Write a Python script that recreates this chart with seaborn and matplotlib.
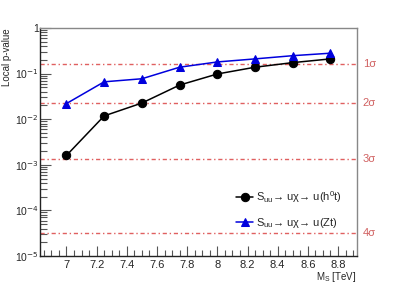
import numpy as np
import seaborn as sns
from matplotlib import pyplot as plt
from matplotlib.ticker import FixedLocator, LogLocator, NullFormatter

mass = [7.0, 7.25, 7.5, 7.75, 8.0, 8.25, 8.5, 8.75]
p_h0t = [1.6e-3, 0.0118, 0.0226, 0.056, 0.098, 0.138, 0.174, 0.21]
p_zt = [0.022, 0.066, 0.077, 0.138, 0.18, 0.21, 0.247, 0.28]
sigma_labels = ["1σ", "2σ", "3σ", "4σ"]
sigma_p = [0.1587, 0.02275, 0.00135, 3.17e-5]

sns.set_theme(style="ticks")
plt.rcParams['font.family'] = ['Liberation Sans', 'DejaVu Sans']

fig = plt.figure(figsize=(3.97, 2.85), dpi=100)
ax = fig.add_axes([0.1008, 0.1018, 0.7982, 0.8])

sns.lineplot(x=mass, y=p_h0t, ax=ax, color="black", marker="o", markersize=6,
             markeredgecolor="black", linewidth=1.1,
             label=r"S$_{\mathregular{uu}}$→ uχ→ u(h$^{\mathregular{0}}$t)")
sns.lineplot(x=mass, y=p_zt, ax=ax, color="#0000dd", marker="^", markersize=6,
             markeredgecolor="#0000dd", linewidth=1.1,
             label=r"S$_{\mathregular{uu}}$→ uχ→ u(Zt)")

ax.set_yscale("log")
ax.set_xlim(6.825, 8.925)
ax.set_ylim(1e-5, 1)

for lab, p in zip(sigma_labels, sigma_p):
    ax.axhline(p, color="#e06060", linestyle=(0, (3, 2, 1, 2)), linewidth=1.0, zorder=1)
    ax.text(1.018, p, lab, transform=ax.get_yaxis_transform(), color="#d06060",
            fontsize=8, va="center", ha="left")

ax.xaxis.set_major_locator(FixedLocator([7, 7.2, 7.4, 7.6, 7.8, 8, 8.2, 8.4, 8.6, 8.8]))
ax.xaxis.set_minor_locator(FixedLocator(np.arange(6.85, 8.93, 0.05)))
ax.set_xticklabels(["7", "7.2", "7.4", "7.6", "7.8", "8", "8.2", "8.4", "8.6", "8.8"])
ax.yaxis.set_major_locator(LogLocator(base=10, numticks=10))
ax.yaxis.set_minor_locator(LogLocator(base=10, subs=np.arange(2, 10), numticks=10))
ax.yaxis.set_minor_formatter(NullFormatter())
ax.set_yticks([1e-5, 1e-4, 1e-3, 1e-2, 1e-1, 1])
ax.set_yticklabels([r"10$^{-5}$", r"10$^{-4}$", r"10$^{-3}$", r"10$^{-2}$", r"10$^{-1}$", "1"])

ax.tick_params(which="both", direction="in", labelsize=8, color="#555555", width=0.8)
ax.tick_params(axis="y", pad=1, labelsize=7.5)
ax.tick_params(axis="x", pad=3)
ax.tick_params(which="major", length=7)
ax.tick_params(which="minor", length=4)
ax.tick_params(axis="y", which="minor", length=5)
ax.tick_params(axis="y", which="major", length=8)
for s in ax.spines.values():
    s.set_color("#888888")
    s.set_linewidth(1.0)
ax.spines["left"].set_color("#222222")
ax.spines["bottom"].set_color("#222222")

ax.set_xlabel(r"M$_{\mathregular{S}}$ [TeV]", fontsize=7, ha="right", va="top")
ax.xaxis.set_label_coords(1.0, -0.06)
ax.set_ylabel("Local p-value", fontsize=7, ha="right")
ax.yaxis.set_label_coords(-0.088, 1.0)

ax.legend(loc="lower right", bbox_to_anchor=(0.985, 0.07), frameon=False, fontsize=8,
          handlelength=1.5, labelspacing=1.0, handletextpad=0.3)

fig.savefig("out.png", dpi=100)
